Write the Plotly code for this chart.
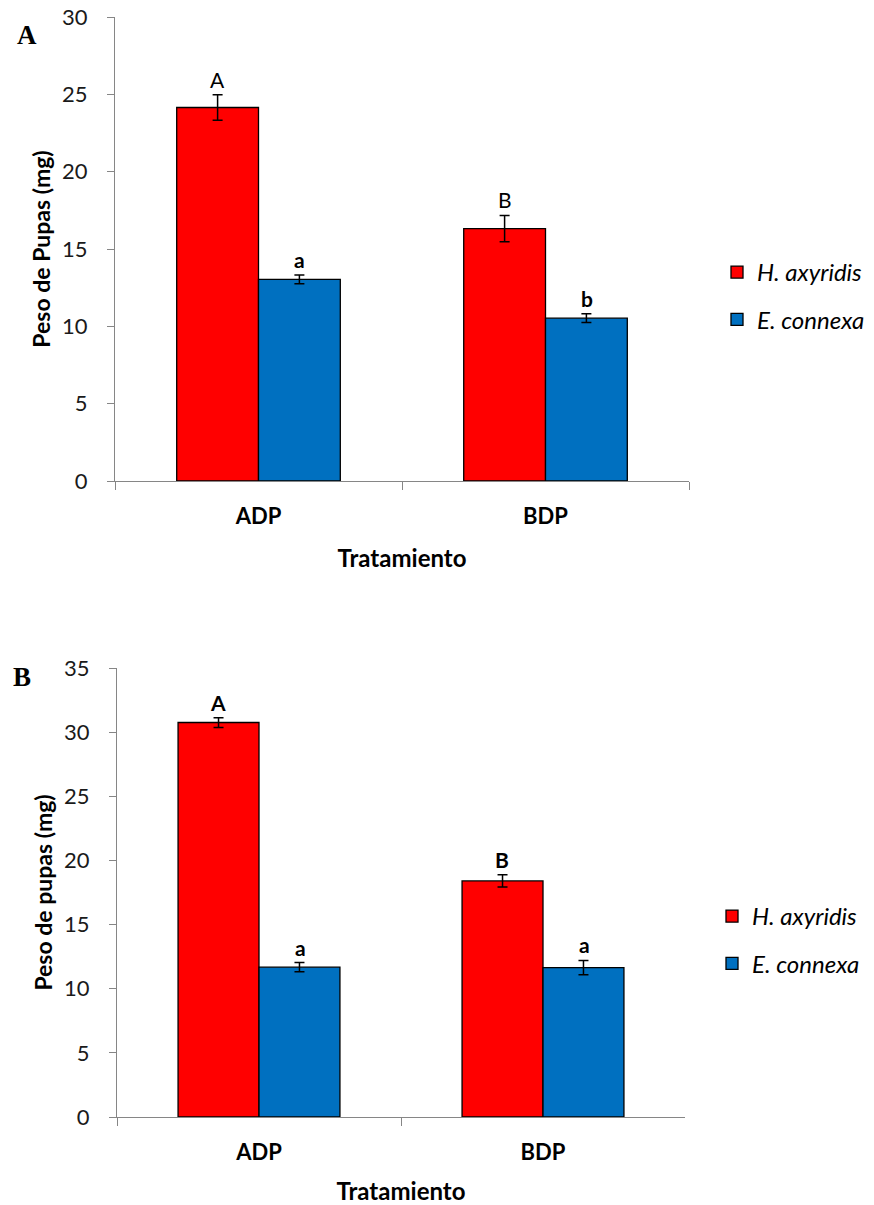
import plotly.graph_objects as go

W, H = 874, 1205

categories = ["ADP", "BDP"]
series_names = ["<i>H. axyridis</i>", "<i>E. connexa</i>"]
colors = ["#FF0000", "#0070C0"]

# Panel A
a_hax = [24.15, 16.32]
a_hax_err = [0.83, 0.85]
a_eco = [13.04, 10.53]
a_eco_err = [0.28, 0.28]
a_hax_letters = ["A", "B"]
a_eco_letters = ["a", "b"]

# Panel B
b_hax = [30.75, 18.40]
b_hax_err = [0.38, 0.48]
b_eco = [11.68, 11.64]
b_eco_err = [0.36, 0.56]
b_hax_letters = ["A", "B"]
b_eco_letters = ["a", "a"]

yticks_a = [0, 5, 10, 15, 20, 25, 30]
yticks_b = [0, 5, 10, 15, 20, 25, 30, 35]

FONT = "Lato"
fig = go.Figure()

def add_panel(vals_list, errs_list, xa, ya, legend):
    for i, (vals, errs) in enumerate(zip(vals_list, errs_list)):
        fig.add_trace(go.Bar(
            x=categories, y=vals, name=series_names[i],
            marker=dict(color=colors[i], line=dict(color="black", width=1.3)),
            error_y=dict(type="data", array=errs, visible=True, color="black",
                         thickness=1.5, width=5),
            xaxis=xa, yaxis=ya, legend=legend, legendgroup=legend + str(i),
            showlegend=True,
        ))

add_panel([a_hax, a_eco], [a_hax_err, a_eco_err], "x", "y", "legend")
add_panel([b_hax, b_eco], [b_hax_err, b_eco_err], "x2", "y2", "legend2")

def px_x(v):
    return v / W

def dom_y(top, bottom):
    return [1 - bottom / H, 1 - top / H]

axis_col = "#868686"
tick_font = dict(family=FONT, size=22, color="#1a1a1a")

common_x = dict(type="category", showline=True, linecolor=axis_col, linewidth=1.3,
                ticks="outside", tickson="boundaries", ticklen=8, tickcolor=axis_col,
                tickwidth=1.3, showgrid=False, zeroline=False, ticklabelstandoff=15,
                automargin=False,
                tickfont=dict(family=FONT, size=22, color="black", weight="bold"),
                title=dict(text="<b>Tratamiento</b>", font=dict(family=FONT, size=24, color="black"),
                           standoff=22))
common_y = dict(showline=True, linecolor=axis_col, linewidth=1.3, ticks="outside",
                ticklen=7, tickcolor=axis_col, tickwidth=1.3, showgrid=False, zeroline=False,
                ticklabelstandoff=15, tickfont=tick_font, automargin=False)

fig.update_layout(
    width=W, height=H,
    margin=dict(l=0, r=0, t=0, b=0, autoexpand=False),
    paper_bgcolor="white", plot_bgcolor="white",
    barmode="group", bargap=0.43, bargroupgap=0,
    xaxis=dict(domain=[px_x(115), px_x(689)], anchor="y", **common_x),
    yaxis=dict(domain=dom_y(17, 481), anchor="x", range=[0, 30], tickvals=yticks_a,
               title=dict(text="<b>Peso de Pupas (mg)</b>", font=dict(family=FONT, size=23, color="black"),
                          standoff=4), **common_y),
    xaxis2=dict(domain=[px_x(117), px_x(685)], anchor="y2", **common_x),
    yaxis2=dict(domain=dom_y(668, 1117), anchor="x2", range=[0, 35], tickvals=yticks_b,
                title=dict(text="<b>Peso de pupas (mg)</b>", font=dict(family=FONT, size=23, color="black"),
                           standoff=4), **common_y),
    legend=dict(x=px_x(717), y=1 - 250 / H, xanchor="left", yanchor="top",
                font=dict(family=FONT, size=24, color="black"), traceorder="grouped",
                tracegroupgap=13, itemwidth=30, bgcolor="rgba(0,0,0,0)"),
    legend2=dict(x=px_x(712), y=1 - 894 / H, xanchor="left", yanchor="top",
                 font=dict(family=FONT, size=24, color="black"), traceorder="grouped",
                 tracegroupgap=13, itemwidth=30, bgcolor="rgba(0,0,0,0)"),
    showlegend=True,
)

annots = []
def letters(vals, errs, labs, xa, ya, shift, bold):
    for c, v, e, t in zip(categories, vals, errs, labs):
        annots.append(dict(x=c, y=v + e, xref=xa, yref=ya, text=(f"<b>{t}</b>" if bold else t),
                           showarrow=False, xshift=shift, yanchor="bottom", yshift=1,
                           font=dict(family=FONT, size=21, color="black")))

letters(a_hax, a_hax_err, a_hax_letters, "x", "y", -41, False)
letters(a_eco, a_eco_err, a_eco_letters, "x", "y", 41, True)
letters(b_hax, b_hax_err, b_hax_letters, "x2", "y2", -41, True)
letters(b_eco, b_eco_err, b_eco_letters, "x2", "y2", 41, True)

annots.append(dict(x=px_x(27), y=1 - 35 / H, xref="paper", yref="paper", text="<b>A</b>",
                   xanchor="center", yanchor="middle",
                   showarrow=False, font=dict(family="Liberation Serif", size=27, color="black")))
annots.append(dict(x=px_x(22), y=1 - 677 / H, xref="paper", yref="paper", text="<b>B</b>",
                   xanchor="center", yanchor="middle",
                   showarrow=False, font=dict(family="Liberation Serif", size=27, color="black")))
fig.update_layout(annotations=annots)

fig.write_html("out.html", config={"displayModeBar": False},
               post_script="document.body.style.margin='0';")
